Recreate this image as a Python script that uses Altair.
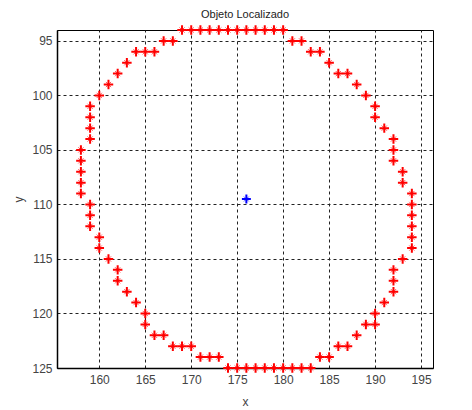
import altair as alt
import pandas as pd

# red boundary points (x, y)
red_x = [169, 170, 171, 172, 173, 174, 175, 176, 177, 178, 179, 180,
         167, 168, 181, 182,
         164, 165, 166, 183, 184,
         163, 185,
         162, 186, 187,
         161, 188,
         160, 189,
         159, 190,
         159, 190,
         159, 191,
         159, 192,
         158, 192,
         158, 192,
         158, 193,
         158, 193,
         158, 194,
         159, 194,
         159, 194,
         159, 194,
         160, 194,
         160, 194,
         161, 193,
         162, 192,
         162, 192,
         163, 192,
         164, 191,
         165, 190,
         165, 189, 190,
         166, 167, 188,
         168, 169, 170, 186, 187,
         171, 172, 173, 184, 185,
         174, 175, 176, 177, 178, 179, 180, 181, 182, 183]
red_y = [94] * 12 + [95] * 4 + [96] * 5 + [97] * 2 + [98] * 3 + [99] * 2 + \
        [100] * 2 + [101] * 2 + [102] * 2 + [103] * 2 + [104] * 2 + [105] * 2 + \
        [106] * 2 + [107] * 2 + [108] * 2 + [109] * 2 + [110] * 2 + [111] * 2 + \
        [112] * 2 + [113] * 2 + [114] * 2 + [115] * 2 + [116] * 2 + [117] * 2 + \
        [118] * 2 + [119] * 2 + [120] * 2 + [121] * 3 + [122] * 3 + [123] * 5 + \
        [124] * 5 + [125] * 10

center_x = [176]
center_y = [109.5]

x_ticks = [160, 165, 170, 175, 180, 185, 190, 195]
y_ticks = [95, 100, 105, 110, 115, 120, 125]

red_df = pd.DataFrame({"x": red_x, "y": red_y})
cen_df = pd.DataFrame({"x": center_x, "y": center_y})

plus = "M-1,0L1,0M0,-1L0,1"
cross = "M-0.55,-0.55L0.55,0.55M-0.55,0.55L0.55,-0.55"

xs = alt.Scale(domain=[155.4, 196.3], nice=False, zero=False)
ys = alt.Scale(domain=[94, 125], nice=False, zero=False, reverse=True)

xaxis = alt.Axis(values=x_ticks, title="x", grid=True, gridDash=[3, 3],
                 gridColor="#222", gridWidth=1, ticks=False,
                 domainColor="black", domainWidth=1.5,
                 labelFont="Liberation Sans", labelFontSize=12, labelColor="#444",
                 labelPadding=6, titleFont="Liberation Sans", titleFontSize=12,
                 titleFontWeight="normal", titleColor="#444", titlePadding=11)
yaxis = alt.Axis(values=y_ticks, title="y", grid=True, gridDash=[3, 3],
                 gridColor="#222", gridWidth=1, ticks=False,
                 domainColor="black", domainWidth=1.5,
                 labelFont="Liberation Sans", labelFontSize=12, labelColor="#444",
                 labelPadding=5, titleFont="Liberation Sans", titleFontSize=12,
                 titleFontWeight="normal", titleColor="#444", titlePadding=6)

enc = dict(x=alt.X("x:Q", scale=xs, axis=xaxis), y=alt.Y("y:Q", scale=ys, axis=yaxis))

red_plus = alt.Chart(red_df).mark_point(shape=plus, filled=False, color="#ff0000",
                                        strokeWidth=2, size=90, opacity=1).encode(**enc)
red_cross = alt.Chart(red_df).mark_point(shape=cross, filled=False, color="#ff3030",
                                         strokeWidth=1, size=90, opacity=0.8).encode(**enc)
blue_plus = alt.Chart(cen_df).mark_point(shape=plus, filled=False, color="#0000ff",
                                         strokeWidth=2, size=80, opacity=1).encode(
    x=alt.X("x:Q", scale=xs), y=alt.Y("y:Q", scale=ys))
blue_cross = alt.Chart(cen_df).mark_point(shape=cross, filled=False, color="#3030ff",
                                          strokeWidth=1, size=80, opacity=0.8).encode(
    x=alt.X("x:Q", scale=xs), y=alt.Y("y:Q", scale=ys))

chart = alt.layer(red_cross, red_plus, blue_cross, blue_plus).properties(
    width=376, height=338,
    title=alt.TitleParams("Objeto Localizado", font="Liberation Sans", fontSize=11,
                          fontWeight="normal", color="#222", offset=1),
    autosize=alt.AutoSizeParams(type="none"),
    padding={"left": 49, "top": 22, "right": 31, "bottom": 44},
    background="white",
).configure_view(stroke="black", strokeWidth=1)

chart.save("out.html", embed_options={"renderer": "svg", "actions": False})
